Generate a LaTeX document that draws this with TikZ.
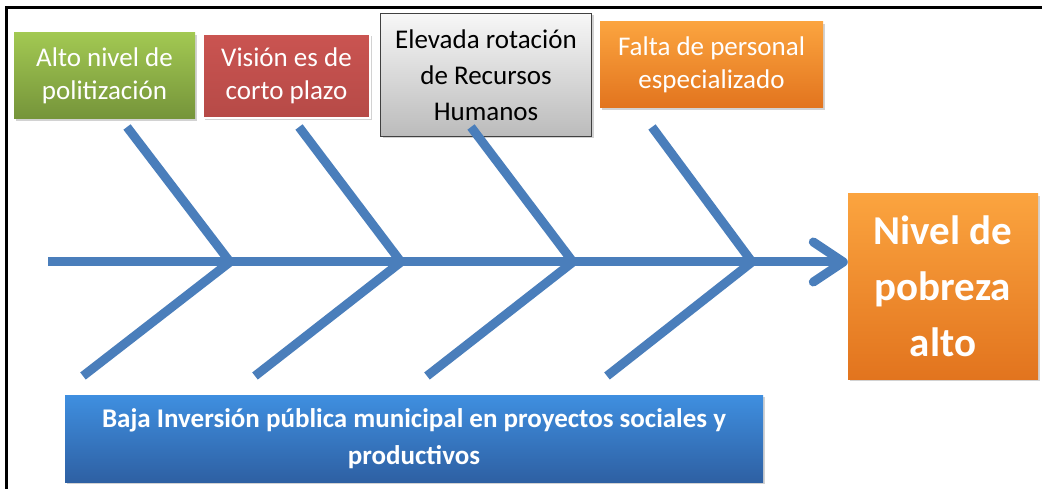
\documentclass[tikz,border=0pt]{standalone}
\usepackage{fontspec}
\setmainfont{Carlito}
\usetikzlibrary{arrows.meta,shadows}
\definecolor{bone}{HTML}{4A7EBB}
\definecolor{greenT}{HTML}{A2C852}
\definecolor{greenB}{HTML}{75943A}
\definecolor{redT}{HTML}{CA5451}
\definecolor{redB}{HTML}{B64A47}
\definecolor{grayT}{HTML}{F7F7F7}
\definecolor{grayB}{HTML}{BBBBBB}
\definecolor{grayD}{HTML}{404040}
\definecolor{orangeT}{HTML}{FBA43F}
\definecolor{orangeB}{HTML}{E2741E}
\definecolor{blueT}{HTML}{3F8FE0}
\definecolor{blueB}{HTML}{2E60A3}
\begin{document}
\begin{tikzpicture}[x=1pt,y=-1pt,
  box/.style={inner sep=0pt, align=center, text=white,
    font=\fontsize{27}{33}\selectfont,
    drop shadow={shadow xshift=2pt, shadow yshift=-2pt, opacity=0.35}},
  bonestyle/.style={draw=bone, line width=9pt, line join=miter},
  spinestyle/.style={draw=bone, line width=9pt}]
\useasboundingbox (0,0) rectangle (1042,489);
\fill[white] (0,0) rectangle (1042,489);
% frame
\draw[line width=3pt] (6.5,489) -- (6.5,7.3) -- (1042,7.3);

% cause boxes
\node[box, minimum width=181pt, minimum height=86pt,
  top color=greenT, bottom color=greenB] (g) at (104.5,76)
  {Alto nivel de\\politización};
\node[box, minimum width=167pt, minimum height=84pt,
  top color=redT, bottom color=redB, draw=white, line width=2.5pt] (r) at (286.5,76)
  {Visión es de\\corto plazo};
\node[box, minimum width=211pt, minimum height=123pt, text=black,
  font=\fontsize{27}{36}\selectfont,
  top color=grayT, bottom color=grayB, draw=grayD, line width=1.5pt] (gr) at (486,75)
  {Elevada rotación\\de Recursos\\Humanos};
\node[box, minimum width=223pt, minimum height=86pt,
  top color=orangeT, bottom color=orangeB] (o) at (711.5,65)
  {Falta de personal\\especializado};
\node[box, minimum width=190pt, minimum height=185pt,
  font=\fontsize{41}{56}\selectfont\bfseries,
  top color=orangeT, bottom color=orangeB] (nivel) at (943,286.5)
  {Nivel de\\pobreza\\alto};
\node[box, minimum width=698pt, minimum height=87pt,
  font=\fontsize{27}{37}\selectfont\bfseries,
  top color=blueT, bottom color=blueB] (b) at (414,438.5)
  {Baja Inversión pública municipal en proyectos sociales y\\productivos};

% bones
\coordinate (s) at (48,262);
\coordinate (j1) at (230,262); \coordinate (u1) at (127,127); \coordinate (l1) at (83,376);
\coordinate (j2) at (401,262); \coordinate (u2) at (299,127); \coordinate (l2) at (255,376);
\coordinate (j3) at (573,262); \coordinate (u3) at (471,127); \coordinate (l3) at (427,376);
\coordinate (j4) at (752,262); \coordinate (u4) at (652,127); \coordinate (l4) at (607,376);

\draw[spinestyle, -{Straight Barb[length=30pt, width=40pt, round]}] (s) -- (s -| nivel.west);
\draw[bonestyle] (u1) -- (j1) -- (l1);
\draw[bonestyle] (u2) -- (j2) -- (l2);
\draw[bonestyle] (u3) -- (j3) -- (l3);
\draw[bonestyle] (u4) -- (j4) -- (l4);
\end{tikzpicture}
\end{document}
